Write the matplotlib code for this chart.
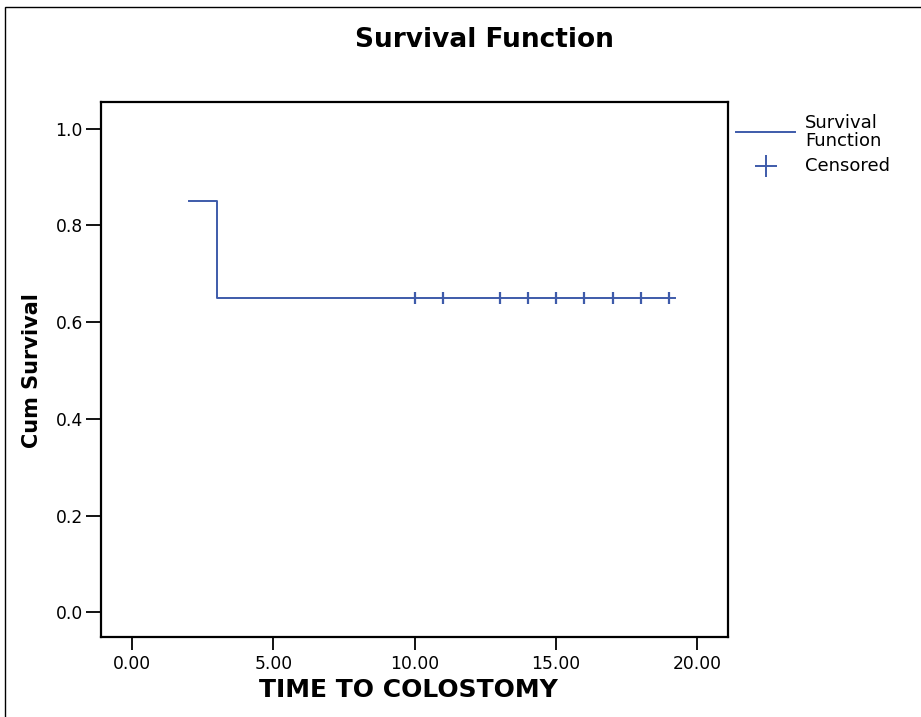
import matplotlib
matplotlib.use("Agg")
import matplotlib.pyplot as plt
from matplotlib.lines import Line2D
from matplotlib.patches import Rectangle

# Data
step_times = [2.0, 3.0, 19.2]
step_surv = [0.85, 0.65, 0.65]
censored_times = [10, 11, 13, 14, 15, 16, 17, 18, 19]
censored_surv = [0.65] * len(censored_times)
x_ticks = [0, 5, 10, 15, 20]
x_ticklabels = ["0.00", "5.00", "10.00", "15.00", "20.00"]
y_ticks = [0.0, 0.2, 0.4, 0.6, 0.8, 1.0]
y_ticklabels = ["0.0", "0.2", "0.4", "0.6", "0.8", "1.0"]

BLUE = "#3E5BAA"
plt.rcParams["font.family"] = ["DejaVu Sans"]

W, H = 921, 717
fig = plt.figure(figsize=(W / 100, H / 100), dpi=100)

# outer frame
fig.add_artist(Rectangle((5 / W, -0.1), 1.2, 1 - 7 / H + 0.1, transform=fig.transFigure,
                         fill=False, edgecolor="black", linewidth=1.0))

ax = fig.add_axes([101 / W, 1 - 637 / H, (728 - 101) / W, (637 - 102) / H])
ax.step(step_times, step_surv, where="post", color=BLUE, linewidth=1.4)
ax.plot(censored_times, censored_surv, linestyle="none", marker="|", markersize=8,
        markeredgewidth=1.6, color=BLUE)

ax.set_xlim(-1.1, 21.08)
ax.set_ylim(-0.051, 1.055)
ax.set_xticks(x_ticks)
ax.set_xticklabels(x_ticklabels)
ax.set_yticks(y_ticks)
ax.set_yticklabels(y_ticklabels)
for s in ["top", "right", "left", "bottom"]:
    ax.spines[s].set_linewidth(1.6)
ax.tick_params(axis="x", direction="out", length=9, width=1.3, pad=4, labelsize=12.3)
ax.tick_params(axis="y", direction="out", length=11, width=1.3, pad=2, labelsize=12.3)

fig.text(484 / W, 1 - 40 / H, "Survival Function", ha="center", va="center",
         fontsize=19, fontweight="bold")
fig.text(408 / W, 1 - 690 / H, "TIME TO COLOSTOMY", ha="center", va="center",
         fontsize=18, fontweight="bold")
fig.text(32 / W, 1 - 371 / H, "Cum Survival", ha="center", va="center",
         rotation=90, fontsize=15, fontweight="bold")

# legend
fig.add_artist(Line2D([736 / W, 795 / W], [1 - 131.5 / H, 1 - 131.5 / H],
                      transform=fig.transFigure, color=BLUE, linewidth=1.4))
fig.text(805 / W, 1 - 132 / H, "Survival\nFunction", ha="left", va="center",
         fontsize=13, linespacing=0.95)
fig.add_artist(Line2D([765.5 / W], [1 - 165.7 / H], transform=fig.transFigure,
                      marker="+", markersize=16, markeredgewidth=1.4, color=BLUE,
                      linestyle="none"))
fig.text(805 / W, 1 - 166 / H, "Censored", ha="left", va="center", fontsize=13)

fig.savefig("out.png", dpi=100)
